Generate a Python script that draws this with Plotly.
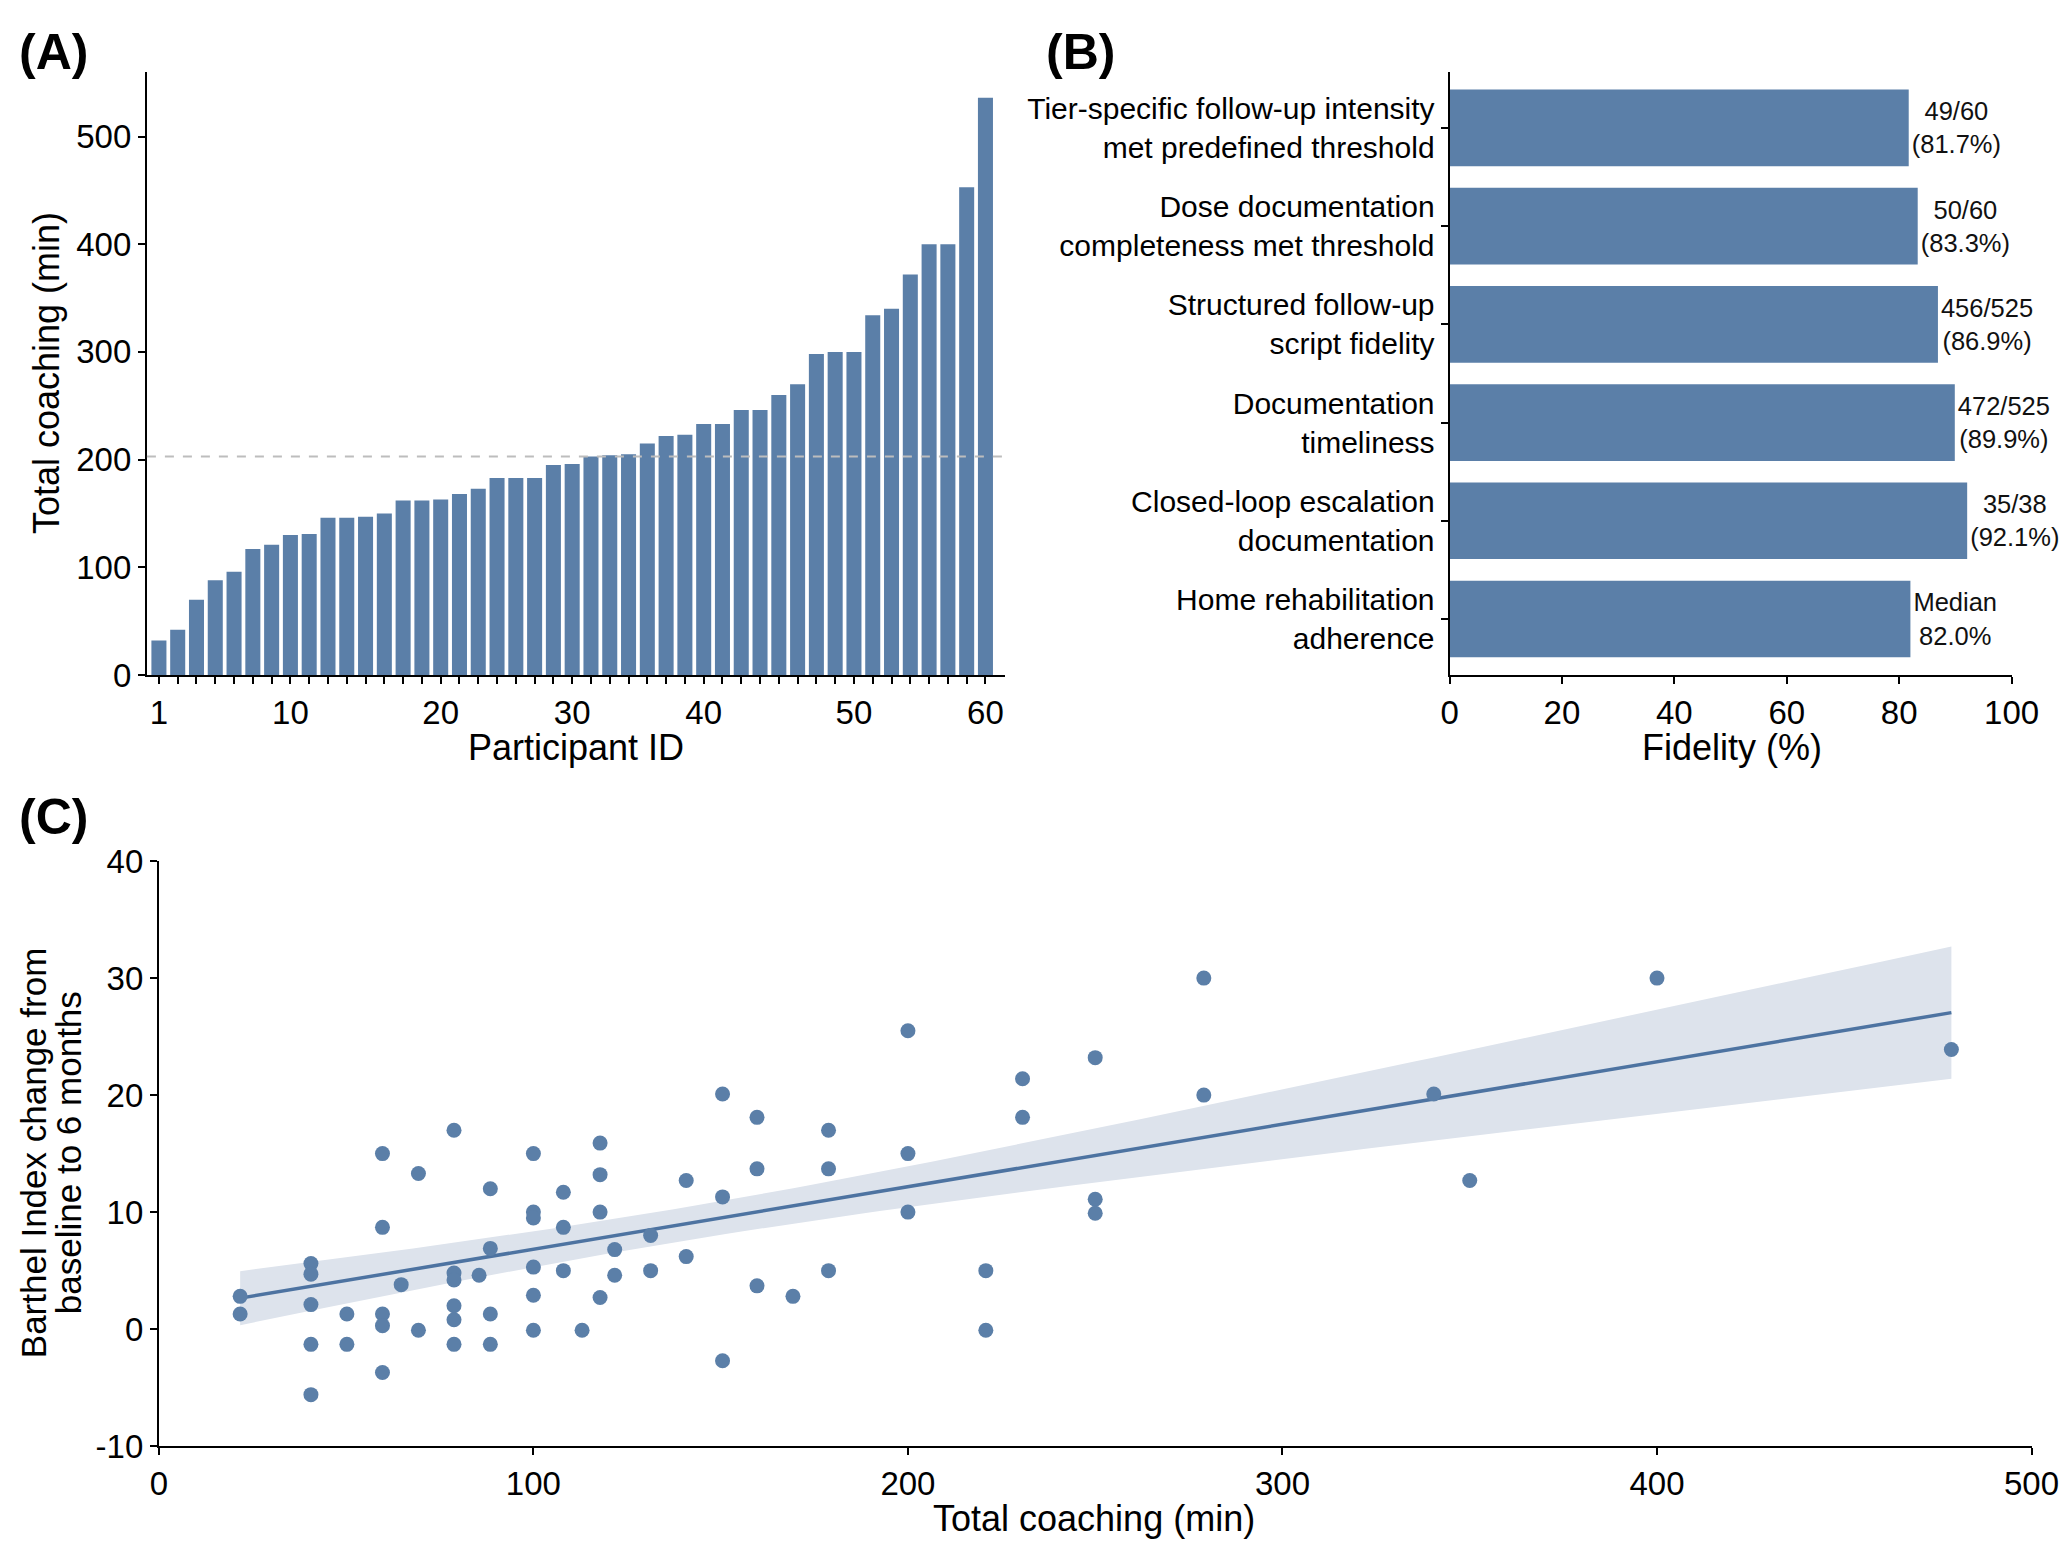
import numpy as np
import plotly.graph_objects as go

# ---- data ----
# (A) total coaching per participant, sorted
coach_minutes = [32, 42, 70, 88, 96, 117, 121, 130, 131, 146,
                 146, 147, 150, 162, 162, 163, 168, 173, 183, 183,
                 183, 195, 196, 203, 204, 205, 215, 222, 223, 233,
                 233, 246, 246, 260, 270, 298, 300, 300, 334, 340,
                 372, 400, 400, 453, 536]
bar_pos = list(range(1, len(coach_minutes) + 1))
id_tick_pos = [1, 8, 16, 23, 30, 38, 45]
id_tick_text = ["1", "10", "20", "30", "40", "50", "60"]
ref_minutes = 203

# (B) fidelity
fid_labels = ["Tier-specific follow-up intensity<br>met predefined threshold",
              "Dose documentation<br>completeness met threshold",
              "Structured follow-up<br>script fidelity",
              "Documentation<br>timeliness",
              "Closed-loop escalation<br>documentation",
              "Home rehabilitation<br>adherence"]
fid_values = [81.7, 83.3, 86.9, 89.9, 92.1, 82.0]
fid_text = ["49/60<br>(81.7%)", "50/60<br>(83.3%)", "456/525<br>(86.9%)",
            "472/525<br>(89.9%)", "35/38<br>(92.1%)", "Median<br>82.0%"]

# (C) coaching vs Barthel change
sc_x = [21.7, 21.7, 40.6, 40.6, 40.6, 40.6, 40.6, 50.2, 50.2, 59.7,
        59.7, 59.7, 59.7, 59.7, 64.7, 69.3, 69.3, 78.8, 78.8, 78.8,
        78.8, 78.8, 78.8, 85.5, 88.5, 88.5, 88.5, 88.5, 100, 100,
        100, 100, 100, 100, 108, 108, 108, 113, 117.8, 117.8,
        117.8, 117.8, 121.7, 121.7, 131.3, 131.3, 140.8, 140.8, 150.5, 150.5,
        150.5, 159.7, 159.7, 159.7, 169.3, 178.8, 178.8, 178.8, 200, 200,
        200, 220.8, 220.8, 230.6, 230.6, 250, 250, 250, 279, 279,
        340.4, 350, 400, 478.6]
sc_y = [2.8, 1.3, 5.6, 4.7, 2.1, -1.3, -5.6, 1.3, -1.3, 15.0,
        8.7, 1.3, 0.3, -3.7, 3.8, 13.3, -0.1, 17.0, 4.8, 4.2,
        2.0, 0.8, -1.3, 4.6, 12.0, 6.9, 1.3, -1.3, 15.0, 10.0,
        9.5, 5.3, 2.9, -0.1, 11.7, 8.7, 5.0, -0.1, 15.9, 13.2,
        10.0, 2.7, 6.8, 4.6, 8.0, 5.0, 12.7, 6.2, 20.1, 11.3,
        -2.7, 18.1, 13.7, 3.7, 2.8, 17.0, 13.7, 5.0, 25.5, 15.0,
        10.0, 5.0, -0.1, 21.4, 18.1, 23.2, 11.1, 9.9, 30.0, 20.0,
        20.1, 12.7, 30.0, 23.9]
# fitted line as drawn in the source figure
fit_intercept = 1.49
fit_slope = 0.0534
c_yticks = [-10, 0, 10, 20, 30, 40]
c_yticktext = ["-10", "0", "10", "20", "30", "40"]

BLUE = "#5b7fa8"
LINE = "#4d73a1"
BAND = "#dde3ec"
FONT = "Liberation Sans, Arial, sans-serif"
W, H = 2084, 1554
# how the photographed picture relates to page pixels (measured on earlier runs)
SX, CX = 0.984, 8.0
SY, CY = 0.976, 18.3
BODY = 8


def div_x(t):
    return (t - CX) / SX - BODY


def div_y(t):
    return (t - CY) / SY - BODY


def px_x(a, b):
    return [div_x(a) / W, div_x(b) / W]


def px_y(top, bottom):
    return [1 - div_y(bottom) / H, 1 - div_y(top) / H]


# 95% CI band around the fitted line
xa = np.array(sc_x)
ya = np.array(sc_y)
n = len(xa)
xs = np.linspace(xa.min(), xa.max(), 100)
yfit = fit_intercept + fit_slope * xs
resid = ya - (fit_intercept + fit_slope * xa)
s = np.sqrt(np.sum(resid ** 2) / (n - 2))
sxx = np.sum((xa - xa.mean()) ** 2)
half = 1.993 * s * np.sqrt(1 / n + (xs - xa.mean()) ** 2 / sxx)

fig = go.Figure()

# A
fig.add_trace(go.Bar(x=bar_pos, y=coach_minutes, marker_color=BLUE, marker_line_width=0,
                     xaxis="x", yaxis="y", showlegend=False))
# B
fig.add_trace(go.Bar(x=fid_values, y=fid_labels, orientation="h", marker_color=BLUE,
                     marker_line_width=0, text=fid_text, textposition="outside",
                     constraintext="none", cliponaxis=False, width=0.78,
                     textfont=dict(size=25.5, color="#111111", family=FONT),
                     xaxis="x2", yaxis="y2", showlegend=False))
# C
fig.add_trace(go.Scatter(x=np.concatenate([xs, xs[::-1]]),
                         y=np.concatenate([yfit + half, (yfit - half)[::-1]]),
                         fill="toself", fillcolor=BAND, line=dict(width=0),
                         mode="lines", hoverinfo="skip", xaxis="x3", yaxis="y3", showlegend=False))
fig.add_trace(go.Scatter(x=xs, y=yfit, mode="lines", line=dict(color=LINE, width=3.5),
                         xaxis="x3", yaxis="y3", showlegend=False))
fig.add_trace(go.Scatter(x=sc_x, y=sc_y, mode="markers",
                         marker=dict(color=BLUE, size=15, line=dict(width=0)),
                         xaxis="x3", yaxis="y3", showlegend=False))

axis_common = dict(showline=True, linecolor="black", linewidth=2, ticks="outside",
                   ticklen=7, tickwidth=2, tickcolor="black", showgrid=False, zeroline=False,
                   tickfont=dict(size=33, family=FONT, color="black"))

fig.update_layout(
    width=W, height=H, margin=dict(l=0, r=0, t=0, b=0),
    plot_bgcolor="white", paper_bgcolor="white", bargap=0.2,
    font=dict(family=FONT, color="black"),
    xaxis=dict(domain=px_x(146, 1006), range=[0.36, 46.06], tickvals=bar_pos,
               ticktext=[id_tick_text[id_tick_pos.index(p)] if p in id_tick_pos else "" for p in bar_pos],
               anchor="y", **axis_common),
    yaxis=dict(domain=px_y(72, 675), range=[0, 560], tickvals=[0, 100, 200, 300, 400, 500],
               anchor="x", **axis_common),
    xaxis2=dict(domain=px_x(1451, 2014), range=[0, 100], tickvals=[0, 20, 40, 60, 80, 100],
                anchor="y2", **axis_common),
    yaxis2=dict(domain=px_y(72, 675), range=[5.57, -0.57], anchor="x2",
                **{**axis_common, "tickfont": dict(size=30, family=FONT, color="black")}),
    xaxis3=dict(domain=px_x(158, 2034), range=[0, 500], tickvals=[0, 100, 200, 300, 400, 500],
                anchor="y3", **axis_common),
    yaxis3=dict(domain=px_y(861, 1446), range=[-10, 40], tickvals=c_yticks, ticktext=c_yticktext,
                anchor="x3", **axis_common),
)

fig.add_shape(type="line", xref="x domain", yref="y", x0=0, x1=1, y0=ref_minutes, y1=ref_minutes,
              line=dict(color="#bdbdbd", width=2, dash="dash"), layer="above")


def note(text, x, y, size, angle=0, bold=False, xanchor="center", yanchor="middle", yshift=0):
    px = max(div_x(x), 0)
    py = max(div_y(y), 0)
    fig.add_annotation(text="<b>%s</b>" % text if bold else text, xref="paper", yref="paper",
                       x=px / W, y=1 - py / H, showarrow=False, textangle=angle,
                       xanchor=xanchor, yanchor=yanchor, yshift=yshift,
                       font=dict(size=size, family=FONT, color="black"))


note("(A)", 10, 0, 50, bold=True, xanchor="left", yanchor="top", yshift=4)
note("(B)", 1045, 0, 50, bold=True, xanchor="left", yanchor="top", yshift=4)
note("(C)", 10, 817, 50, bold=True, xanchor="left")
note("Participant ID", 576, 747, 36)
note("Fidelity (%)", 1734, 747, 36)
note("Total coaching (min)", 1095, 1518, 36)
note("Total coaching (min)", 46, 373, 36, angle=-90)
# two-line title on C written as two rotated lines
note("Barthel Index change from", 32, 1153, 35, angle=-90)
note("baseline to 6 months", 67, 1153, 35, angle=-90)

fig.write_html("out.html")
